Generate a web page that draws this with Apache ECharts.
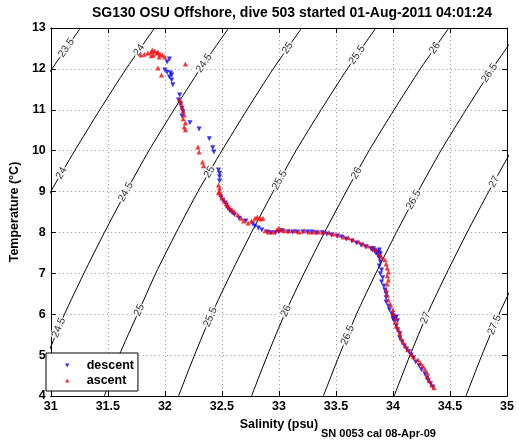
<!DOCTYPE html>
<html><head><meta charset="utf-8">
<script src="https://cdn.jsdelivr.net/npm/echarts@6/dist/echarts.min.js"></script>
<style>html,body{margin:0;padding:0;background:#fff}#c{width:519px;height:442px}</style>
</head><body><div id="c"></div>
<script>
// ---- data ----
const titleText = 'SG130 OSU Offshore, dive 503 started 01-Aug-2011 04:01:24';
const footText = 'SN 0053 cal 08-Apr-09';
const xTickLabels = [31, 31.5, 32, 32.5, 33, 33.5, 34, 34.5, 35];
const yTickLabels = [4, 5, 6, 7, 8, 9, 10, 11, 12, 13];

// isopycnal contours (sigma-theta) : salinity at temperatures 4..13 C
const contourTemps = [4, 5, 6, 7, 8, 9, 10, 11, 12, 13];
const contourLevels = [23.5, 24, 24.5, 25, 25.5, 26, 26.5, 27, 27.5];
const contourSal = [
  [29.53, 29.66, 29.82, 29.98, 30.16, 30.35, 30.56, 30.78, 31.01, 31.26],
  [30.18, 30.32, 30.47, 30.63, 30.81, 31.00, 31.21, 31.43, 31.66, 31.91],
  [30.83, 30.97, 31.12, 31.29, 31.47, 31.66, 31.86, 32.08, 32.31, 32.56],
  [31.47, 31.60, 31.76, 31.92, 32.10, 32.29, 32.50, 32.72, 32.95, 33.20],
  [32.12, 32.26, 32.41, 32.58, 32.76, 32.95, 33.15, 33.37, 33.60, 33.85],
  [32.76, 32.90, 33.05, 33.22, 33.40, 33.59, 33.79, 34.01, 34.24, 34.49],
  [33.39, 33.53, 33.68, 33.85, 34.03, 34.22, 34.42, 34.64, 34.87, 35.12],
  [34.01, 34.15, 34.30, 34.47, 34.65, 34.84, 35.04, 35.26, 35.49, 35.74],
  [34.64, 34.78, 34.93, 35.10, 35.28, 35.47, 35.67, 35.89, 36.12, 36.37]
];
// contour label placements: level and temperature where label sits
const labelLevels = [23.5, 24, 24.5, 25, 25.5, 26, 26.5, 24, 24.5, 25, 25.5, 26, 26.5, 27, 24.5, 25, 25.5, 26, 26.5, 27, 27.5];
const labelTemps  = [12.51, 12.46, 12.14, 12.51, 12.34, 12.51, 11.90, 9.45, 8.99, 9.48, 9.28, 9.45, 8.80, 9.24, 5.67, 6.10, 5.93, 6.08, 5.49, 5.91, 5.74];

const descentSal = [32.04,32.02,32.00,32.02,32.05,32.06,32.04,32.06,32.07,32.13,32.12,32.14,32.15,32.16,32.15,32.22,32.30,32.39,32.42,32.43,32.47,32.48,32.48,32.48,32.49,32.51,32.53,32.54,32.55,32.57,32.59,32.61,32.65,32.71,32.77,32.79,32.82,32.85,32.90,32.93,32.97,33.00,33.03,33.08,33.12,33.16,33.21,33.25,33.29,33.33,33.38,33.42,33.46,33.51,33.55,33.59,33.64,33.68,33.72,33.76,33.81,33.82,33.84,33.86,33.88,33.87,33.88,33.89,33.88,33.90,33.89,33.91,33.90,33.92,33.93,33.94,33.94,33.94,33.96,33.97,33.99,34.00,34.02,34.01,34.03,34.04,34.06,34.06,34.08,34.10,34.12,34.14,34.16,34.18,34.20,34.23,34.25,34.28,34.30,34.31,34.33,34.35,33.83,33.85,33.88,33.89,34.00,34.03,34.04];
const descentTemp = [12.24,12.17,11.97,11.92,11.90,11.85,11.80,11.73,11.61,11.36,11.24,11.14,11.04,10.95,10.85,10.68,10.53,10.29,10.07,9.97,9.53,9.45,9.36,9.26,8.87,8.79,8.72,8.67,8.60,8.53,8.48,8.43,8.35,8.28,8.21,8.16,8.11,8.06,8.01,7.99,7.99,8.01,8.04,8.01,8.01,8.01,8.01,8.01,8.01,7.99,7.99,7.96,7.94,7.91,7.89,7.84,7.79,7.74,7.69,7.65,7.60,7.57,7.55,7.52,7.50,7.43,7.38,7.28,7.18,7.08,6.99,6.89,6.79,6.69,6.59,6.50,6.40,6.30,6.20,6.11,6.01,5.96,5.91,5.84,5.71,5.62,5.52,5.42,5.32,5.22,5.15,5.08,5.00,4.93,4.83,4.74,4.64,4.54,4.44,4.37,4.30,4.22,7.60,7.50,7.57,7.47,5.89,5.93,5.84];

const ascentSal = [31.79,31.82,31.85,31.88,31.89,31.91,31.93,31.94,31.96,31.98,32.00,31.95,31.90,31.88,31.94,31.97,32.18,32.13,32.14,32.15,32.16,32.17,32.16,32.18,32.17,32.18,32.29,32.30,32.33,32.34,32.47,32.48,32.48,32.47,32.49,32.50,32.52,32.54,32.55,32.57,32.59,32.61,32.64,32.67,32.69,32.73,32.76,32.79,32.81,32.84,32.86,32.88,32.91,32.95,32.98,33.00,33.02,33.05,33.09,33.14,33.18,33.22,33.27,33.31,33.35,33.39,33.44,33.48,33.52,33.57,33.61,33.65,33.70,33.74,33.78,33.82,33.85,33.88,33.90,33.93,33.94,33.95,33.96,33.95,33.96,33.95,33.94,33.95,33.96,33.98,34.00,34.00,34.02,34.02,34.03,34.05,34.06,34.07,34.09,34.11,34.13,34.16,34.18,34.22,34.24,34.26,34.28,34.30,34.30,34.32,34.34,34.36];
const ascentTemp = [12.34,12.36,12.39,12.41,12.46,12.44,12.39,12.41,12.36,12.34,12.29,12.29,12.34,12.32,12.02,11.85,12.12,11.26,11.17,11.07,10.97,10.87,10.78,10.68,10.58,10.51,10.09,9.97,9.72,9.63,9.16,9.09,9.01,8.97,8.92,8.84,8.77,8.70,8.65,8.60,8.55,8.50,8.43,8.35,8.28,8.23,8.28,8.35,8.38,8.33,8.35,8.04,8.01,8.01,8.06,8.11,8.06,8.04,8.04,8.04,8.01,8.04,8.01,8.01,8.01,8.01,7.99,7.96,7.94,7.89,7.87,7.82,7.77,7.72,7.67,7.62,7.57,7.47,7.40,7.33,7.23,7.13,7.03,6.94,6.84,6.74,6.59,6.47,6.35,6.23,6.11,6.01,5.91,5.81,5.71,5.62,5.52,5.42,5.32,5.22,5.13,5.03,4.96,4.88,4.81,4.74,4.66,4.56,4.47,4.37,4.27,4.20];

// ---- chart ----
const FONT = '"Liberation Sans", Arial, Helvetica, sans-serif';
const chart = echarts.init(document.getElementById('c'), null, {renderer: 'canvas'});

const zip = (a, b) => a.map((v, i) => [v, b[i]]);

const contourSeries = contourSal.map((arr, k) => ({
  type: 'line', id: 'c' + k, name: 'sigma ' + contourLevels[k],
  data: zip(arr, contourTemps), showSymbol: false, symbol: 'none',
  smooth: 0.2, clip: true, silent: true, z: 1,
  lineStyle: {color: '#000', width: 1}
}));

const axisCommonX = {type: 'value', min: 31, max: 35, interval: 0.5};
const axisCommonY = {type: 'value', min: 4, max: 13, interval: 1};

const option = {
  animation: false,
  backgroundColor: '#fff',
  grid: {left: 41, right: 12, top: 28, bottom: 46, containLabel: false},
  xAxis: [
    Object.assign({}, axisCommonX, {
      position: 'bottom',
      name: 'Salinity (psu)', nameLocation: 'middle', nameGap: 18,
      nameTextStyle: {fontFamily: FONT, fontWeight: 'bold', fontSize: 12.5, color: '#000'},
      axisLine: {show: true, onZero: false, lineStyle: {color: '#000', width: 1}},
      axisTick: {show: true, inside: true, length: 5, lineStyle: {color: '#000'}},
      axisLabel: {show: true, margin: 4, fontFamily: FONT, fontWeight: 'bold', fontSize: 12.5, color: '#000',
        formatter: v => xTickLabels.indexOf(v) >= 0 ? String(v) : ''},
      splitLine: {show: true, lineStyle: {color: '#999', width: 1, type: [1, 3]}}
    }),
    Object.assign({}, axisCommonX, {
      position: 'top',
      axisLine: {show: true, onZero: false, lineStyle: {color: '#000', width: 1}},
      axisTick: {show: true, inside: true, length: 5, lineStyle: {color: '#000'}},
      axisLabel: {show: false}, splitLine: {show: false}
    })
  ],
  yAxis: [
    Object.assign({}, axisCommonY, {
      position: 'left',
      name: 'Temperature (°C)', nameLocation: 'middle', nameGap: 23,
      nameTextStyle: {fontFamily: FONT, fontWeight: 'bold', fontSize: 12.5, color: '#000'},
      axisLine: {show: true, onZero: false, lineStyle: {color: '#000', width: 1}},
      axisTick: {show: true, inside: true, length: 5, lineStyle: {color: '#000'}},
      axisLabel: {show: true, margin: 5, fontFamily: FONT, fontWeight: 'bold', fontSize: 12.5, color: '#000',
        formatter: v => yTickLabels.indexOf(v) >= 0 ? String(v) : ''},
      splitLine: {show: true, lineStyle: {color: '#999', width: 1, type: [1, 3]}}
    }),
    Object.assign({}, axisCommonY, {
      position: 'right',
      axisLine: {show: true, onZero: false, lineStyle: {color: '#000', width: 1}},
      axisTick: {show: true, inside: true, length: 5, lineStyle: {color: '#000'}},
      axisLabel: {show: false}, splitLine: {show: false}
    })
  ],
  legend: {
    data: [
      {name: 'descent', icon: 'path://M0,0L10,0L5,9Z'},
      {name: 'ascent', icon: 'path://M5,0L10,9L0,9Z'}
    ],
    orient: 'vertical', left: 46, top: 353,
    backgroundColor: '#fff', borderColor: '#000', borderWidth: 1, borderRadius: 0,
    padding: [5, 4, 3, 19], itemGap: 0, itemWidth: 5, itemHeight: 4,
    textStyle: {fontFamily: FONT, fontWeight: 'bold', fontSize: 12.5, color: '#000', lineHeight: 15, padding: [0, 0, 0, 12]},
    selectedMode: false
  },
  graphic: [
    {type: 'text', x: 292, y: 13, silent: true,
      style: {text: titleText, font: 'bold 14px ' + FONT, fill: '#000', textAlign: 'center', textVerticalAlign: 'middle'}},
    {type: 'text', x: 321, y: 434, silent: true,
      style: {text: footText, font: 'bold 11px ' + FONT, fill: '#000', textAlign: 'left', textVerticalAlign: 'middle'}}
  ],
  series: contourSeries.concat([
    {
      type: 'scatter', id: 'd', name: 'descent', data: zip(descentSal, descentTemp),
      symbol: 'triangle', symbolRotate: 180, symbolSize: 5, z: 3,
      itemStyle: {color: '#0000ff'}
    },
    {
      type: 'scatter', id: 'a', name: 'ascent', data: zip(ascentSal, ascentTemp),
      symbol: 'triangle', symbolSize: 5, z: 4,
      itemStyle: {color: '#ff0000'}
    }
  ])
};
chart.setOption(option);

// contour labels: locate on contour and orient along local slope
function salAt(k, T) {
  const arr = contourSal[k];
  let i = Math.floor(T - contourTemps[0]);
  i = Math.max(0, Math.min(i, arr.length - 2));
  const f = (T - contourTemps[i]) / (contourTemps[i + 1] - contourTemps[i]);
  return arr[i] + (arr[i + 1] - arr[i]) * f;
}
const labelData = labelLevels.map((lev, j) => {
  const k = contourLevels.indexOf(lev);
  const T = labelTemps[j];
  const S = salAt(k, T);
  const p1 = chart.convertToPixel({gridIndex: 0}, [salAt(k, T - 0.3), T - 0.3]);
  const p2 = chart.convertToPixel({gridIndex: 0}, [salAt(k, T + 0.3), T + 0.3]);
  const ang = Math.atan2(p1[1] - p2[1], p2[0] - p1[0]) * 180 / Math.PI;
  return {value: [S, T], label: {show: true, rotate: ang, formatter: String(lev)}};
});
option.series.push({
  type: 'scatter', id: 'labels', name: 'labels', data: labelData, symbolSize: 1, silent: true, z: 2,
  itemStyle: {color: 'rgba(0,0,0,0)'},
  label: {show: true, position: 'inside', color: '#000', fontFamily: FONT, fontSize: 10.5,
    backgroundColor: '#fff', padding: [0, 1], align: 'center', verticalAlign: 'middle'}
});
chart.setOption(option, true);
</script></body></html>
